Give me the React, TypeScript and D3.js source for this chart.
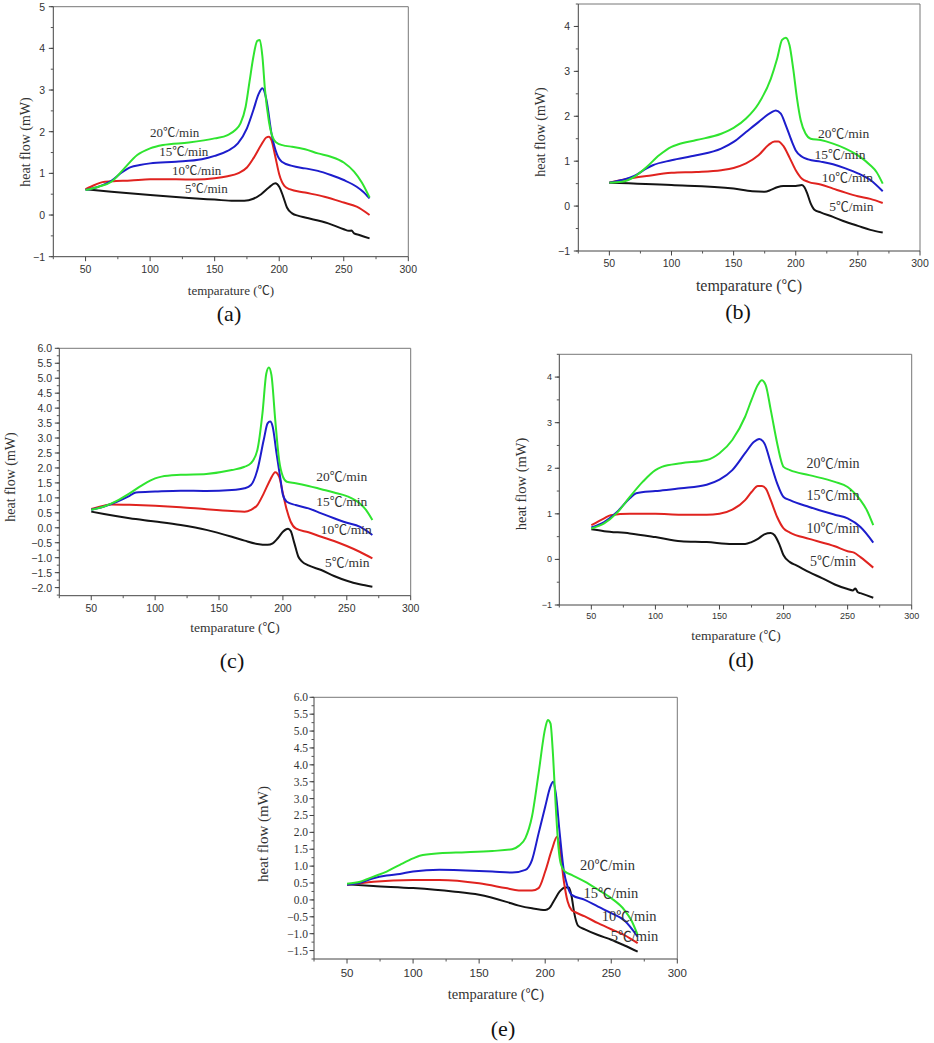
import React from "react";
import * as d3 from "d3";

type Pt = [number, number];

const SERIF = '"Times New Roman", "Liberation Serif", serif';
const SANS = 'Arial, "Liberation Sans", sans-serif';
const CJK = '"Noto Sans CJK SC", "DejaVu Serif", serif';

// heating rates, drawn black -> green
const rateNumbers = ["5", "10", "15", "20"];
const rateColors = ["#141414", "#e0231f", "#1d1dcc", "#2fe42f"];

const xTickValues = [50, 100, 150, 200, 250, 300];
const xMinorValues = [25, 75, 125, 175, 225, 275];

// ---- (a) ----
const a5: Pt[] = [[50,0.62],[70,0.56],[100,0.48],[130,0.41],[150,0.37],[165,0.34],[173,0.34],[180,0.39],[186,0.5],[192,0.66],[197,0.76],[200,0.68],[203,0.45],[206,0.18],[210,0.04],[215,-0.02],[220,-0.06],[238,-0.2],[250,-0.34],[254,-0.38],[256,-0.37],[258,-0.44],[262,-0.48],[270,-0.56]];
const a10: Pt[] = [[50,0.62],[57,0.72],[63,0.79],[70,0.81],[85,0.83],[100,0.86],[120,0.86],[135,0.85],[150,0.88],[160,0.93],[168,1.0],[175,1.14],[180,1.36],[186,1.68],[190,1.86],[192,1.88],[194,1.8],[197,1.4],[200,0.98],[204,0.7],[208,0.62],[220,0.54],[235,0.44],[250,0.3],[260,0.2],[270,0.0]];
const a15: Pt[] = [[50,0.6],[60,0.68],[70,0.82],[78,1.02],[85,1.15],[92,1.2],[100,1.24],[120,1.28],[140,1.34],[150,1.42],[160,1.54],[168,1.72],[175,2.08],[180,2.52],[184,2.9],[187,3.04],[190,2.78],[194,1.96],[198,1.48],[202,1.28],[210,1.18],[220,1.12],[230,1.06],[240,0.96],[250,0.84],[260,0.68],[265,0.56],[270,0.4]];
const a20: Pt[] = [[50,0.6],[60,0.68],[70,0.8],[80,1.12],[90,1.44],[100,1.6],[110,1.68],[130,1.74],[150,1.84],[160,1.92],[166,2.04],[170,2.2],[174,2.6],[177,3.2],[180,3.8],[183,4.18],[185,4.2],[187,3.8],[189,3.0],[192,2.25],[196,1.8],[200,1.7],[205,1.66],[210,1.64],[220,1.58],[230,1.48],[240,1.4],[250,1.26],[258,1.04],[264,0.78],[270,0.42]];
const aLabelAt: Pt[] = [[127,0.52],[117,0.97],[107,1.41],[100,1.88]];

// ---- (b) ----
const b5: Pt[] = [[50,0.52],[100,0.47],[150,0.39],[165,0.33],[175,0.32],[180,0.36],[185,0.42],[190,0.45],[200,0.45],[205,0.47],[207,0.42],[209,0.3],[212,0.06],[215,-0.08],[220,-0.14],[230,-0.24],[240,-0.35],[250,-0.44],[260,-0.53],[270,-0.59]];
const b10: Pt[] = [[50,0.52],[60,0.58],[70,0.63],[80,0.67],[100,0.74],[120,0.76],[140,0.8],[150,0.85],[160,0.95],[170,1.13],[178,1.36],[183,1.44],[186,1.44],[190,1.34],[195,1.08],[200,0.8],[205,0.61],[210,0.54],[220,0.48],[230,0.39],[240,0.3],[250,0.22],[260,0.16],[270,0.07]];
const b15: Pt[] = [[50,0.52],[60,0.58],[70,0.67],[80,0.84],[85,0.91],[100,1.02],[120,1.13],[140,1.28],[150,1.43],[160,1.65],[170,1.87],[180,2.08],[184,2.13],[188,2.06],[192,1.8],[197,1.43],[200,1.24],[205,1.1],[210,1.04],[220,0.99],[230,0.93],[240,0.84],[250,0.73],[260,0.58],[270,0.33]];
const b20: Pt[] = [[50,0.52],[60,0.54],[70,0.65],[80,0.87],[90,1.13],[100,1.32],[105,1.37],[120,1.47],[140,1.61],[150,1.74],[160,1.95],[170,2.28],[180,2.84],[185,3.28],[189,3.7],[192,3.75],[195,3.58],[198,3.05],[201,2.4],[204,1.91],[208,1.61],[212,1.5],[220,1.47],[230,1.39],[240,1.28],[250,1.13],[260,0.91],[265,0.76],[270,0.5]];
const bLabelAt: Pt[] = [[227,-0.1],[221,0.54],[215,1.04],[218,1.52]];

// ---- (c) ----
const c5: Pt[] = [[50,0.54],[60,0.46],[80,0.32],[100,0.21],[120,0.09],[140,-0.07],[160,-0.3],[170,-0.43],[180,-0.54],[188,-0.57],[192,-0.52],[196,-0.35],[200,-0.13],[204,-0.03],[206,-0.1],[209,-0.52],[212,-0.96],[215,-1.13],[220,-1.26],[230,-1.41],[240,-1.61],[250,-1.77],[260,-1.89],[270,-1.97]];
const c10: Pt[] = [[50,0.63],[60,0.74],[65,0.78],[80,0.77],[100,0.74],[120,0.69],[140,0.62],[160,0.56],[170,0.54],[175,0.6],[180,0.76],[185,1.15],[190,1.6],[194,1.86],[197,1.71],[200,1.15],[203,0.6],[206,0.21],[210,-0.02],[220,-0.15],[230,-0.3],[240,-0.44],[250,-0.61],[260,-0.8],[270,-1.02]];
const c15: Pt[] = [[50,0.6],[60,0.71],[70,0.87],[80,1.07],[85,1.18],[100,1.21],[120,1.24],[140,1.23],[160,1.26],[170,1.32],[175,1.43],[180,1.93],[185,2.94],[188,3.49],[190,3.55],[192,3.38],[195,2.49],[198,1.65],[200,1.1],[203,0.87],[210,0.76],[220,0.65],[230,0.48],[240,0.32],[250,0.17],[260,0.04],[270,-0.24]];
const c20: Pt[] = [[50,0.6],[60,0.71],[70,0.9],[80,1.15],[90,1.43],[100,1.65],[105,1.71],[120,1.77],[140,1.8],[160,1.93],[170,2.04],[175,2.16],[180,2.6],[184,3.83],[187,5.16],[189,5.36],[191,5.11],[194,3.6],[197,2.27],[200,1.71],[203,1.54],[210,1.49],[220,1.4],[230,1.29],[240,1.18],[250,1.06],[260,0.82],[265,0.6],[270,0.26]];
const cLabelAt: Pt[] = [[233,-1.32],[229.6,-0.21],[226,0.73],[226,1.57]];

// ---- (d) ----
const d5: Pt[] = [[50,0.66],[60,0.62],[80,0.57],[100,0.49],[120,0.4],[140,0.38],[160,0.34],[170,0.34],[175,0.38],[180,0.45],[185,0.55],[190,0.58],[193,0.53],[197,0.31],[200,0.09],[205,-0.06],[210,-0.13],[220,-0.28],[230,-0.41],[240,-0.55],[250,-0.65],[254,-0.68],[256,-0.64],[258,-0.72],[260,-0.74],[270,-0.84]];
const d10: Pt[] = [[50,0.75],[60,0.9],[65,0.97],[80,1.0],[100,1.0],[120,0.98],[140,0.98],[150,1.0],[160,1.09],[170,1.3],[175,1.48],[180,1.61],[183,1.61],[186,1.56],[190,1.3],[195,0.93],[200,0.68],[205,0.59],[220,0.45],[240,0.29],[250,0.18],[255,0.15],[260,0.05],[270,-0.18]];
const d15: Pt[] = [[50,0.7],[60,0.82],[70,1.04],[80,1.34],[85,1.45],[100,1.5],[120,1.56],[140,1.64],[150,1.75],[160,1.96],[170,2.33],[177,2.58],[181,2.64],[185,2.55],[190,2.11],[195,1.67],[200,1.37],[205,1.3],[220,1.15],[240,0.98],[250,0.9],[260,0.71],[270,0.37]];
const d20: Pt[] = [[50,0.68],[60,0.79],[70,1.02],[80,1.37],[90,1.7],[100,1.96],[105,2.03],[120,2.11],[140,2.18],[150,2.33],[160,2.62],[170,3.13],[175,3.5],[180,3.83],[183,3.93],[186,3.83],[190,3.28],[195,2.55],[198,2.18],[200,2.03],[205,1.96],[220,1.85],[240,1.7],[250,1.59],[260,1.3],[265,1.08],[270,0.75]];
const dLabelAt: Pt[] = [[220.6,-0.15],[218,0.59],[218,1.3],[218,2.0]];

// ---- (e) ----
const e5: Pt[] = [[50,0.46],[70,0.41],[100,0.35],[130,0.25],[150,0.15],[170,-0.05],[180,-0.17],[190,-0.25],[200,-0.3],[203,-0.25],[207,0.0],[211,0.25],[215,0.37],[218,0.37],[220,0.1],[222,-0.39],[225,-0.77],[230,-0.87],[240,-1.04],[250,-1.18],[260,-1.35],[270,-1.53]];
const e10: Pt[] = [[50,0.45],[70,0.54],[100,0.59],[120,0.59],[150,0.49],[170,0.35],[180,0.28],[190,0.28],[195,0.35],[200,0.84],[205,1.48],[209,1.87],[211,1.58],[214,0.59],[217,-0.05],[220,-0.3],[222,-0.35],[230,-0.49],[240,-0.69],[250,-0.87],[260,-1.04],[270,-1.28]];
const e15: Pt[] = [[50,0.45],[60,0.51],[70,0.64],[80,0.72],[90,0.77],[100,0.84],[120,0.89],[140,0.87],[160,0.84],[175,0.81],[185,0.89],[190,1.18],[195,1.97],[200,2.76],[204,3.36],[206,3.5],[208,3.16],[211,1.97],[214,0.89],[217,0.39],[220,0.15],[230,0.0],[240,-0.2],[250,-0.39],[260,-0.61],[270,-1.09]];
const e20: Pt[] = [[50,0.48],[60,0.54],[70,0.69],[80,0.84],[90,1.04],[100,1.23],[105,1.31],[120,1.38],[140,1.41],[160,1.45],[175,1.5],[180,1.6],[185,1.83],[190,2.47],[195,3.75],[200,5.08],[202,5.33],[204,5.23],[206,4.24],[208,2.76],[210,1.58],[212,1.04],[215,0.84],[220,0.74],[230,0.54],[240,0.3],[250,0.05],[260,-0.3],[265,-0.59],[270,-1.04]];
const eLabelAt: Pt[] = [[249.6,-1.23],[242.8,-0.62],[229,0.07],[226.4,0.89]];

type PanelProps = {
  letter: string;
  series: Pt[][];
  labelAt: Pt[];
  yDomain: [number, number];
  yTickMax: number;
  yStep: number;
  yMinor: number;
  yFmt: string;
  box: { left: number; right: number; top: number; bottom: number };
  tick: { size: number; yRight: number; xBase: number; ySerif: boolean };
  title: { size: number; x: number; y: number };
  yLabel: { size: number; x: number; y: number };
  letterPos: { x: number; y: number };
  rateSize: number;
};

const Panel = (p: PanelProps) => {
  const { box } = p;
  const xScale = d3.scaleLinear().domain([25, 300]).range([box.left, box.right]);
  const yScale = d3.scaleLinear().domain(p.yDomain).range([box.bottom, box.top]);
  const fmt = d3.format(p.yFmt);

  const line = d3
    .line<Pt>()
    .x((d) => xScale(d[0]))
    .y((d) => yScale(d[1]))
    .curve(d3.curveMonotoneX);

  const yTicks = d3.range(p.yDomain[0] === -1 ? -1 : -2, p.yTickMax + 1e-6, p.yStep).filter((v) => v >= p.yDomain[0] - 1e-6);
  const yMinor = d3.range(Math.ceil(p.yDomain[0] / p.yMinor) * p.yMinor, p.yDomain[1] + 1e-6, p.yMinor);

  return (
    <g>
      {/* frame */}
      <line x1={box.left} x2={box.right} y1={box.top} y2={box.top} stroke="#777" />
      <line x1={box.right} x2={box.right} y1={box.top} y2={box.bottom} stroke="#777" />
      <line x1={box.left} x2={box.left} y1={box.top} y2={box.bottom} stroke="#444" />
      <line x1={box.left} x2={box.right} y1={box.bottom} y2={box.bottom} stroke="#444" />

      {yMinor.map((v, i) => (
        <line key={"ym" + i} x1={box.left - 2.5} x2={box.left} y1={yScale(v)} y2={yScale(v)} stroke="#555" />
      ))}
      {yTicks.map((v, i) => (
        <g key={"y" + i}>
          <line x1={box.left - 4.5} x2={box.left} y1={yScale(v)} y2={yScale(v)} stroke="#444" />
          <text
            x={p.tick.yRight}
            y={yScale(v)}
            textAnchor="end"
            dominantBaseline="central"
            fontFamily={p.tick.ySerif ? SERIF : SANS}
            fontSize={p.tick.size}
            fill="#333"
          >
            {fmt(v)}
          </text>
        </g>
      ))}
      {xMinorValues.map((v, i) => (
        <line key={"xm" + i} x1={xScale(v)} x2={xScale(v)} y1={box.bottom} y2={box.bottom + 2.5} stroke="#555" />
      ))}
      {xTickValues.map((v, i) => (
        <g key={"x" + i}>
          <line x1={xScale(v)} x2={xScale(v)} y1={box.bottom} y2={box.bottom + 4.5} stroke="#444" />
          <text x={xScale(v)} y={p.tick.xBase} textAnchor="middle" fontFamily={SANS} fontSize={p.tick.size} fill="#333">
            {v}
          </text>
        </g>
      ))}

      {p.series.map((s, i) => (
        <path key={"s" + i} d={line(s) ?? ""} fill="none" stroke={rateColors[i]} strokeWidth={2} strokeLinejoin="round" />
      ))}

      {p.labelAt.map((d, i) => (
        <text key={"l" + i} x={xScale(d[0])} y={yScale(d[1])} fontFamily={SERIF} fontSize={p.rateSize} fill="#333">
          {rateNumbers[i]}
          <tspan fontFamily={CJK} fontSize={p.rateSize * 0.95}>℃</tspan>
          /min
        </text>
      ))}

      <text x={p.title.x} y={p.title.y} textAnchor="middle" fontFamily={SERIF} fontSize={p.title.size} fill="#333">
        temparature (<tspan fontFamily={CJK} fontSize={p.title.size * 0.95}>℃</tspan>)
      </text>
      <text
        transform={`translate(${p.yLabel.x},${p.yLabel.y}) rotate(-90)`}
        textAnchor="middle"
        dominantBaseline="central"
        fontFamily={SERIF}
        fontSize={p.yLabel.size}
        fill="#333"
      >
        heat flow (mW)
      </text>
      <text x={p.letterPos.x} y={p.letterPos.y} textAnchor="middle" fontFamily={SERIF} fontSize={22} fill="#111">
        ({p.letter})
      </text>
    </g>
  );
};

const App = () => {
  return (
    <svg width={934} height={1043} style={{ position: "absolute", left: 0, top: 0, background: "#fff" }}>
      <Panel
        letter="a"
        series={[a5, a10, a15, a20]}
        labelAt={aLabelAt}
        yDomain={[-1, 5]}
        yTickMax={5}
        yStep={1}
        yMinor={0.5}
        yFmt="d"
        box={{ left: 53.3, right: 408.3, top: 6.7, bottom: 256.7 }}
        tick={{ size: 10.5, yRight: 45, xBase: 273, ySerif: false }}
        title={{ size: 13, x: 231, y: 295 }}
        yLabel={{ size: 14, x: 25, y: 142 }}
        letterPos={{ x: 229, y: 321 }}
        rateSize={13}
      />
      <Panel
        letter="b"
        series={[b5, b10, b15, b20]}
        labelAt={bLabelAt}
        yDomain={[-1, 4.5]}
        yTickMax={4}
        yStep={1}
        yMinor={0.5}
        yFmt="d"
        box={{ left: 578.3, right: 920, top: 4, bottom: 251 }}
        tick={{ size: 10.5, yRight: 570, xBase: 267, ySerif: false }}
        title={{ size: 16, x: 749, y: 291 }}
        yLabel={{ size: 14, x: 540, y: 132 }}
        letterPos={{ x: 738, y: 319 }}
        rateSize={13.5}
      />
      <Panel
        letter="c"
        series={[c5, c10, c15, c20]}
        labelAt={cLabelAt}
        yDomain={[-2.27, 6]}
        yTickMax={6}
        yStep={0.5}
        yMinor={0.25}
        yFmt=".1f"
        box={{ left: 59.3, right: 410.7, top: 348.3, bottom: 595.7 }}
        tick={{ size: 10.5, yRight: 52, xBase: 612, ySerif: false }}
        title={{ size: 13.5, x: 235, y: 632 }}
        yLabel={{ size: 14, x: 10, y: 477 }}
        letterPos={{ x: 232, y: 668 }}
        rateSize={13.5}
      />
      <Panel
        letter="d"
        series={[d5, d10, d15, d20]}
        labelAt={dLabelAt}
        yDomain={[-1, 4.5]}
        yTickMax={4}
        yStep={1}
        yMinor={0.5}
        yFmt="d"
        box={{ left: 559.3, right: 911.7, top: 354.3, bottom: 605 }}
        tick={{ size: 9, yRight: 552, xBase: 619, ySerif: false }}
        title={{ size: 13.5, x: 736, y: 640 }}
        yLabel={{ size: 14.5, x: 521, y: 484 }}
        letterPos={{ x: 741, y: 667 }}
        rateSize={14}
      />
      <Panel
        letter="e"
        series={[e5, e10, e15, e20]}
        labelAt={eLabelAt}
        yDomain={[-1.75, 6]}
        yTickMax={6}
        yStep={0.5}
        yMinor={0.25}
        yFmt=".1f"
        box={{ left: 314, right: 677.3, top: 697.3, bottom: 959 }}
        tick={{ size: 11.5, yRight: 308, xBase: 977, ySerif: true }}
        title={{ size: 14.5, x: 496, y: 999 }}
        yLabel={{ size: 15, x: 263, y: 834 }}
        letterPos={{ x: 503, y: 1036 }}
        rateSize={14.5}
      />
    </svg>
  );
};

export default App;
